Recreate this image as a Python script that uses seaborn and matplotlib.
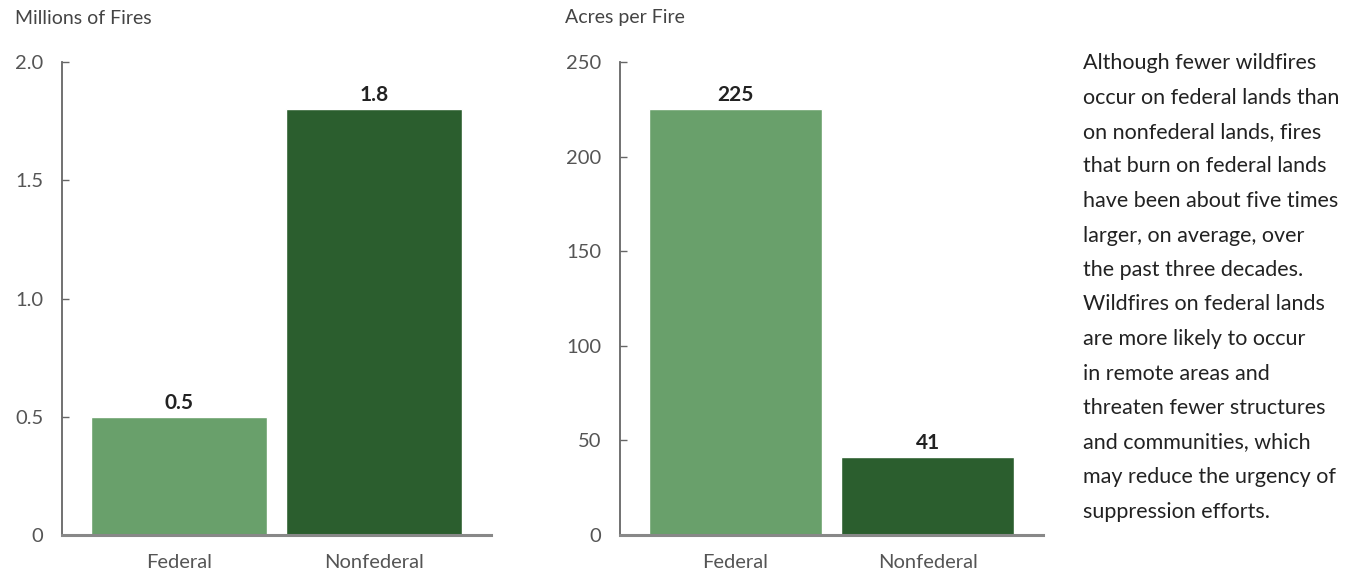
import matplotlib
matplotlib.use("Agg")
import matplotlib.pyplot as plt
from matplotlib.ticker import FuncFormatter
import pandas as pd
import seaborn as sns

# Wildfire counts and sizes by land ownership
categories = ["Federal", "Nonfederal"]
fires_millions = [0.5, 1.8]
acres_per_fire = [225, 41]
fires_ticks = [0, 0.5, 1.0, 1.5, 2.0]
acres_ticks = [0, 50, 100, 150, 200, 250]
panel_titles = ["Millions of Fires", "Acres per Fire"]
note_lines = [
    "Although fewer wildfires",
    "occur on federal lands than",
    "on nonfederal lands, fires",
    "that burn on federal lands",
    "have been about five times",
    "larger, on average, over",
    "the past three decades.",
    "Wildfires on federal lands",
    "are more likely to occur",
    "in remote areas and",
    "threaten fewer structures",
    "and communities, which",
    "may reduce the urgency of",
    "suppression efforts.",
]

colors = {"Federal": "#69a06b", "Nonfederal": "#2b5e2e"}

sns.set_theme(style="white")
plt.rcParams["font.family"] = ["Lato", "DejaVu Sans"]

W, H = 1354, 576
fig = plt.figure(figsize=(W / 100, H / 100), dpi=100)
ax1 = fig.add_axes([62 / W, 1 - 535 / H, 429 / W, 473 / H])
ax2 = fig.add_axes([620 / W, 1 - 535 / H, 423 / W, 473 / H])

fmt_fires = FuncFormatter(lambda v, p: "0" if v == 0 else f"{v:.1f}")
fmt_acres = FuncFormatter(lambda v, p: f"{v:.0f}")

panels = [
    (ax1, fires_millions, fires_ticks, fmt_fires, "{:.1f}", panel_titles[0], 15),
    (ax2, acres_per_fire, acres_ticks, fmt_acres, "{:.0f}", panel_titles[1], 565),
]

for ax, vals, ticks, fmt, lab_fmt, title, tx in panels:
    df = pd.DataFrame({"cat": categories, "val": vals})
    sns.barplot(data=df, x="cat", y="val", hue="cat", palette=colors,
                width=0.9, legend=False, ax=ax, saturation=1)
    ax.set_xlim(-0.6, 1.6)
    ax.set_ylim(ticks[0], ticks[-1])
    ax.set_yticks(ticks)
    ax.yaxis.set_major_formatter(fmt)
    ax.set_xlabel("")
    ax.set_ylabel("")
    for s in ["top", "right"]:
        ax.spines[s].set_visible(False)
    ax.spines["left"].set_color("#666666")
    ax.spines["left"].set_linewidth(1.3)
    ax.spines["bottom"].set_color("#888888")
    ax.spines["bottom"].set_linewidth(2.2)
    ax.tick_params(axis="y", direction="in", length=5, width=1, color="#666666",
                   labelsize=14.5, labelcolor="#555555", pad=13.5, left=True)
    ax.tick_params(axis="x", length=0, labelsize=14.5, labelcolor="#555555", pad=13.5)
    for cont in ax.containers:
        ax.bar_label(cont, fmt=lab_fmt, padding=3, fontsize=15,
                     fontweight="bold", color="#222222")
    fig.text(tx / W, 1 - 18 / H, title, fontsize=14, color="#444444",
             ha="left", va="center")

# Explanatory note beside the panels, one line at a time
line_step = 34.5
for i, line in enumerate(note_lines):
    fig.text(1083 / W, 1 - (63 + i * line_step) / H, line, fontsize=15.5,
             color="#222222", ha="left", va="center")

fig.savefig("out.png", dpi=100)
